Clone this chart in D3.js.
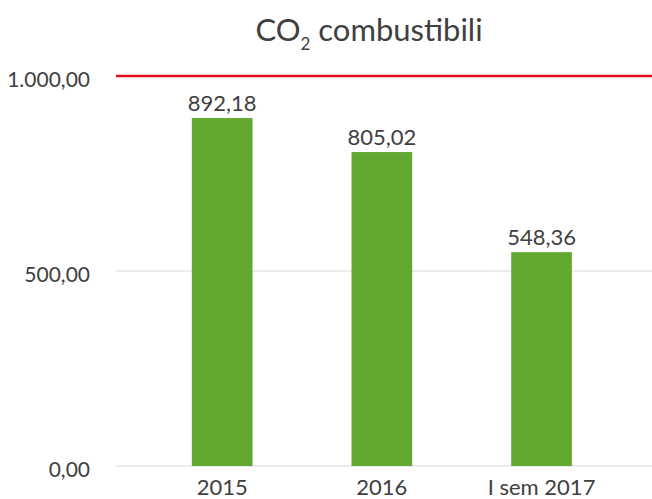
<!DOCTYPE html>
<html>
<head>
<meta charset="utf-8">
<script src="https://cdn.jsdelivr.net/npm/d3@7"></script>
<style>
  body { margin: 0; background: white; }
  svg { display: block; font-family: "Source Sans Pro", Lato, "Open Sans", sans-serif; }
</style>
</head>
<body>
<div id="chart"></div>
<script>
const categories = ["2015", "2016", "I sem 2017"];
const values = [892.18, 805.02, 548.36];
const yTicks = [0, 500, 1000];
const limitValue = 1000;

const width = 652, height = 499;
const margin = { top: 76, right: 0, bottom: 33, left: 116 };

const svg = d3.select("#chart")
  .append("svg")
  .attr("width", width)
  .attr("height", height);

const fmt = (v) => {
  // italian format: dot thousands, comma decimals
  const [i, d] = v.toFixed(2).split(".");
  return i.replace(/\B(?=(\d{3})+(?!\d))/g, ".") + "," + d;
};

const y = d3.scaleLinear()
  .domain([0, 1000])
  .range([height - margin.bottom, margin.top]);

const x = d3.scaleBand()
  .domain(categories)
  .range([142.3, 621.4])
  .paddingInner(0.62)
  .paddingOuter(0.31);

// gridlines
svg.append("g")
  .selectAll("line")
  .data(yTicks.filter((t) => t !== limitValue))
  .join("line")
  .attr("x1", margin.left)
  .attr("x2", width)
  .attr("y1", (d) => y(d))
  .attr("y2", (d) => y(d))
  .attr("stroke", "#d9d9d9")
  .attr("stroke-width", 1);

// y tick labels
svg.append("g")
  .selectAll("text")
  .data(yTicks)
  .join("text")
  .attr("x", 90)
  .attr("y", (d) => y(d))
  .attr("dy", "0.5em")
  .attr("text-anchor", "end")
  .attr("fill", "#404040")
  .style("font-size", "21px")
  .text(fmt);

// bars
svg.append("g")
  .selectAll("rect")
  .data(values)
  .join("rect")
  .attr("x", (d, i) => x(categories[i]))
  .attr("width", x.bandwidth())
  .attr("y", (d) => y(d))
  .attr("height", (d) => y(0) - y(d))
  .attr("fill", "#62a830");

// value labels
svg.append("g")
  .selectAll("text")
  .data(values)
  .join("text")
  .attr("x", (d, i) => x(categories[i]) + x.bandwidth() / 2)
  .attr("y", (d) => y(d) - 7)
  .attr("text-anchor", "middle")
  .attr("fill", "#404040")
  .style("font-size", "22px")
  .text(fmt);

// red limit line at 1000
svg.append("line")
  .attr("x1", margin.left)
  .attr("x2", width)
  .attr("y1", y(limitValue))
  .attr("y2", y(limitValue))
  .attr("stroke", "#e3101c")
  .attr("stroke-width", 2.7);

// x axis labels
svg.append("g")
  .selectAll("text")
  .data(categories)
  .join("text")
  .attr("x", (d) => x(d) + x.bandwidth() / 2)
  .attr("y", 495)
  .attr("text-anchor", "middle")
  .attr("fill", "#404040")
  .style("font-size", "22px")
  .text((d) => d);

// title
const title = svg.append("text")
  .attr("x", 369)
  .attr("y", 41)
  .attr("text-anchor", "middle")
  .attr("fill", "#404040")
  .style("font-size", "31px");
title.append("tspan").text("CO");
title.append("tspan").attr("dy", 9).style("font-size", "17px").text("2");
title.append("tspan").attr("dy", -9).text(" combustibili");
</script>
</body>
</html>
